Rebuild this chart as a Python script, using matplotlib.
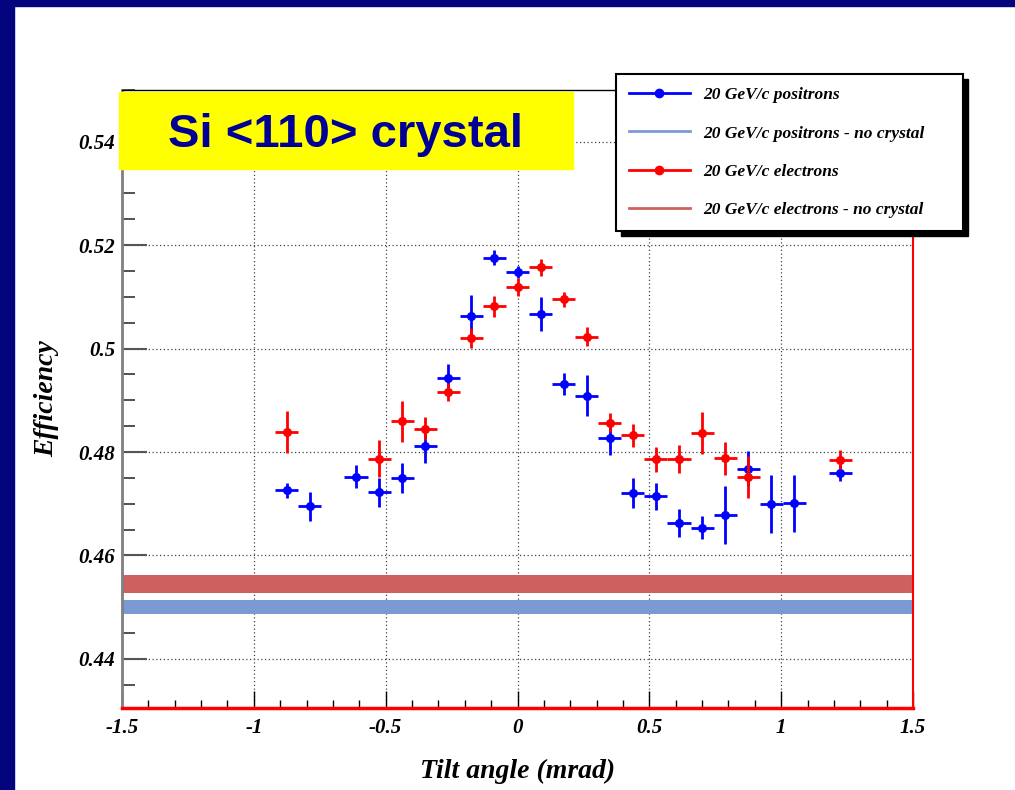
import matplotlib
matplotlib.use("Agg")
import matplotlib.pyplot as plt
from matplotlib.patches import Rectangle
from matplotlib.lines import Line2D
from matplotlib.ticker import MultipleLocator, FuncFormatter
from matplotlib.transforms import IdentityTransform

# 20 GeV/c positrons: tilt angle (mrad), efficiency, stat. error
pos_angle = [-0.875, -0.7875, -0.6125, -0.525, -0.4375, -0.35, -0.2625, -0.175,
             -0.0875, 0.0, 0.0875, 0.175, 0.2625, 0.35, 0.4375, 0.525, 0.6125,
             0.7, 0.7875, 0.875, 0.9625, 1.05, 1.225]
pos_eff = [0.4726, 0.4695, 0.4752, 0.4722, 0.4750, 0.4811, 0.4944, 0.5063,
           0.5176, 0.5148, 0.5067, 0.4931, 0.4909, 0.4827, 0.4720, 0.4714,
           0.4663, 0.4654, 0.4679, 0.4768, 0.4699, 0.4701, 0.4759]
pos_err = [0.0014, 0.0028, 0.0022, 0.0028, 0.0029, 0.0032, 0.0027, 0.0040,
           0.0015, 0.0012, 0.0033, 0.0021, 0.0040, 0.0033, 0.0029, 0.0026,
           0.0027, 0.0022, 0.0056, 0.0034, 0.0056, 0.0055, 0.0016]

# 20 GeV/c electrons
ele_angle = [-0.875, -0.525, -0.4375, -0.35, -0.2625, -0.175, -0.0875, 0.0,
             0.0875, 0.175, 0.2625, 0.35, 0.4375, 0.525, 0.6125, 0.7, 0.7875,
             0.875, 1.225]
ele_eff = [0.4839, 0.4787, 0.4859, 0.4845, 0.4916, 0.5021, 0.5082, 0.5119,
           0.5157, 0.5095, 0.5023, 0.4857, 0.4832, 0.4786, 0.4786, 0.4837,
           0.4788, 0.4752, 0.4785]
ele_err = [0.0040, 0.0036, 0.0040, 0.0022, 0.0018, 0.0019, 0.0020, 0.0018,
           0.0017, 0.0015, 0.0018, 0.0019, 0.0022, 0.0024, 0.0027, 0.0040,
           0.0032, 0.0041, 0.0018]

bin_half = 0.04375

# reference runs without crystal (value, error)
pos_nocrystal = (0.4500, 0.0013)
ele_nocrystal = (0.4545, 0.0018)

legend_labels = ["20 GeV/c positrons", "20 GeV/c positrons - no crystal",
                 "20 GeV/c electrons", "20 GeV/c electrons - no crystal"]

BLUE = "#0000ff"
RED = "#ff0000"
BLUE_BAND = "#7b9ad4"
RED_BAND = "#cf6060"
NAVY = "#04047e"

plt.rcParams['font.family'] = ['Liberation Serif', 'DejaVu Serif']

W, H = 1015, 790
fig = plt.figure(figsize=(W / 100, H / 100), dpi=100)

# slide frame strips
fig.patches.append(Rectangle((0, 0), 14 / W, 1, transform=fig.transFigure,
                             color=NAVY, zorder=0))
fig.patches.append(Rectangle((0, 1 - 6 / H), 1, 6 / H, transform=fig.transFigure,
                             color=NAVY, zorder=0))

ax = fig.add_axes([122 / W, 1 - 708 / H, (913 - 122) / W, (708 - 90) / H])
ax.set_axisbelow(True)

ax.axhspan(ele_nocrystal[0] - ele_nocrystal[1], ele_nocrystal[0] + ele_nocrystal[1],
           color=RED_BAND, lw=0, zorder=1)
ax.axhspan(pos_nocrystal[0] - pos_nocrystal[1], pos_nocrystal[0] + pos_nocrystal[1],
           color=BLUE_BAND, lw=0, zorder=1)

ax.errorbar(pos_angle, pos_eff, xerr=bin_half, yerr=pos_err, fmt='o', color=BLUE,
            ms=5.5, elinewidth=2, capsize=0, zorder=3)
ax.errorbar(ele_angle, ele_eff, xerr=bin_half, yerr=ele_err, fmt='o', color=RED,
            ms=5.5, elinewidth=2, capsize=0, zorder=4)

ax.set_xlim(-1.5, 1.5)
ax.set_ylim(0.4305, 0.55)
ax.xaxis.set_major_locator(MultipleLocator(0.5))
ax.xaxis.set_minor_locator(MultipleLocator(0.1))
ax.yaxis.set_major_locator(MultipleLocator(0.02))
ax.yaxis.set_minor_locator(MultipleLocator(0.005))
fmt = FuncFormatter(lambda v, p: "%g" % round(v, 4))
ax.xaxis.set_major_formatter(fmt)
ax.yaxis.set_major_formatter(fmt)

ax.grid(True, which='major', ls=(0, (1, 2)), color='#444444', lw=0.9)

ax.tick_params(axis='y', which='major', direction='in', length=18, width=1.5,
               color='#555555', pad=5)
ax.tick_params(axis='y', which='minor', direction='in', length=9.5, width=1.2,
               color='#333333')
ax.tick_params(axis='x', which='major', direction='in', length=12, width=1,
               color='black', pad=7)
ax.tick_params(axis='x', which='minor', direction='in', length=6, width=1,
               color='black')
for lab in ax.get_xticklabels() + ax.get_yticklabels():
    lab.set_fontsize(15)
    lab.set_fontweight('bold')
    lab.set_fontstyle('italic')

ax.spines['left'].set_color('#808080')
ax.spines['left'].set_linewidth(2)
ax.spines['top'].set_color('black')
ax.spines['top'].set_linewidth(1)
ax.spines['right'].set_color(RED)
ax.spines['right'].set_linewidth(1.5)
ax.spines['bottom'].set_color(RED)
ax.spines['bottom'].set_linewidth(2.5)

ax.set_xlabel("Tilt angle (mrad)", fontsize=20, fontweight='bold',
              fontstyle='italic', labelpad=15)
ax.set_ylabel("Efficiency", fontsize=20, fontweight='bold',
              fontstyle='italic', labelpad=14)

# title box
fig.patches.append(Rectangle((119 / W, 1 - 169 / H), (573 - 119) / W, (169 - 92) / H,
                             transform=fig.transFigure, color='#ffff00', zorder=3))
fig.text(346 / W, 1 - 135 / H, "Si <110> crystal", ha='center', va='center',
         family='Liberation Sans', fontweight='bold', fontsize=34,
         color='#000096', zorder=4)

handles = [
    Line2D([], [], color=BLUE, marker='o', ms=6, lw=2),
    Line2D([], [], color=BLUE_BAND, lw=2),
    Line2D([], [], color=RED, marker='o', ms=6, lw=2),
    Line2D([], [], color=RED_BAND, lw=2),
]
leg = fig.legend(handles, legend_labels, loc='upper left',
                 bbox_to_anchor=(616 / W, 1 - 228 / H, (963 - 616) / W, (228 - 74) / H),
                 mode='expand', borderaxespad=0, fancybox=False, framealpha=1,
                 edgecolor='black', handlelength=3.5, handletextpad=0.75,
                 labelspacing=1.28, borderpad=0.75,
                 prop={'weight': 'bold', 'style': 'italic', 'size': 12.5})
leg.get_frame().set_linewidth(1.5)
leg.set_zorder(6)

# solid drop shadow behind the legend box
fig.canvas.draw()
bb = leg.get_window_extent()
fig.patches.append(Rectangle((bb.x0 + 5, bb.y0 - 5), bb.width, bb.height,
                             transform=IdentityTransform(), color='black', zorder=5))

fig.savefig("out.png", dpi=100)
